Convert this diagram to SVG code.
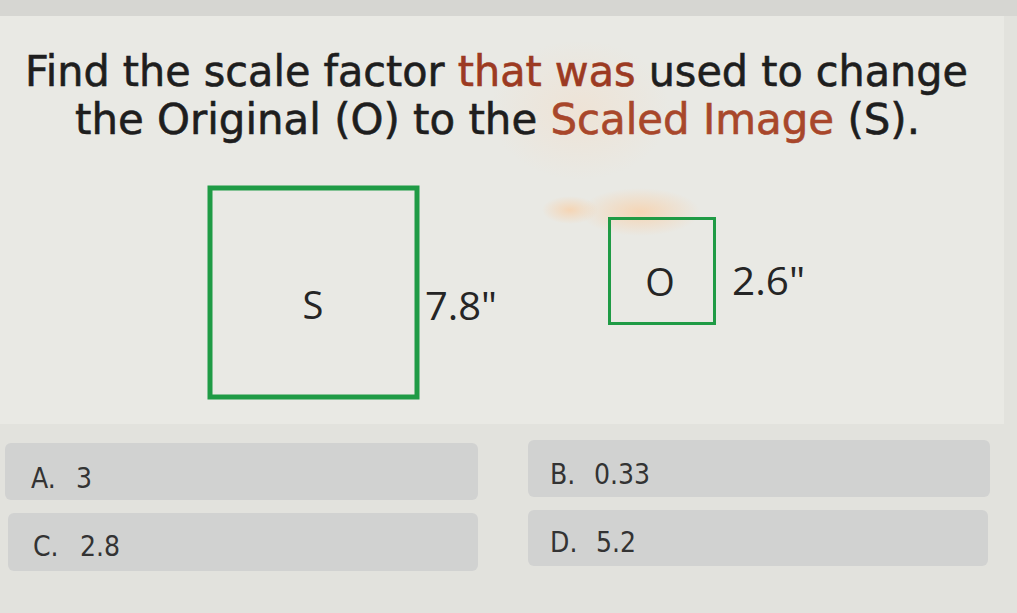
<svg xmlns="http://www.w3.org/2000/svg" width="1017" height="613" viewBox="0 0 1017 613">
<defs>
<style>
.title{font-family:"DejaVu Sans","Liberation Sans",sans-serif;font-size:42px;fill:#1e1e1e;stroke:#1e1e1e;stroke-width:0.6px;}
.red{fill:#9c3a22;stroke:#9c3a22;}
.red2{fill:#a8472b;stroke:#a8472b;}
.lbl{font-family:"Open Sans","DejaVu Sans",sans-serif;font-size:38px;fill:#252525;}
.sq{fill:none;stroke:#1f9b45;}
.ans{fill:#d1d2d1;}
.atxt{font-family:"DejaVu Sans Condensed","DejaVu Sans",sans-serif;font-stretch:condensed;font-size:28px;fill:#333;}
</style>
<radialGradient id="glare" cx="0.5" cy="0.5" r="0.5">
<stop offset="0" stop-color="#f6d3b0" stop-opacity="0.9"/>
<stop offset="1" stop-color="#f6d3b0" stop-opacity="0"/>
</radialGradient>
<radialGradient id="glare2" cx="0.5" cy="0.5" r="0.5">
<stop offset="0" stop-color="#f3ddc8" stop-opacity="0.5"/>
<stop offset="1" stop-color="#f3ddc8" stop-opacity="0"/>
</radialGradient>
</defs>
<rect x="0" y="0" width="1017" height="613" fill="#e2e2dd"/>
<rect x="0" y="0" width="1017" height="16" fill="#d6d6d2"/>
<rect x="0" y="16" width="1004" height="408" fill="#e9e9e4"/>
<ellipse cx="580" cy="110" rx="90" ry="70" fill="url(#glare2)"/>
<ellipse cx="640" cy="212" rx="60" ry="24" fill="url(#glare)"/>
<ellipse cx="570" cy="210" rx="28" ry="14" fill="url(#glare)"/>
<g id="title">
<text class="title" x="25" y="86" textLength="943" lengthAdjust="spacingAndGlyphs">Find the scale factor <tspan class="red">that was</tspan> used to change</text>
<text class="title" x="75" y="134" textLength="845" lengthAdjust="spacingAndGlyphs">the Original (O) to the <tspan class="red2">Scaled Image</tspan> (S).</text>
</g>
<g id="node-S">
<rect class="sq" x="210" y="188" width="207" height="209" stroke-width="5"/>
<text class="lbl" x="313" y="319" text-anchor="middle">S</text>
</g>
<text class="lbl" id="len-S" x="425" y="320" textLength="72" lengthAdjust="spacingAndGlyphs">7.8"</text>
<g id="node-O">
<rect class="sq" x="609.5" y="218.5" width="105" height="105" stroke-width="3"/>
<text class="lbl" x="660" y="296" text-anchor="middle">O</text>
</g>
<text class="lbl" id="len-O" x="732" y="295" textLength="73" lengthAdjust="spacingAndGlyphs">2.6"</text>
<g id="answer-A">
<rect class="ans" x="5" y="443" width="473" height="57" rx="6"/>
<text class="atxt" y="488"><tspan x="31">A.</tspan><tspan x="76">3</tspan></text>
</g>
<g id="answer-B">
<rect class="ans" x="528" y="440" width="462" height="57" rx="6"/>
<text class="atxt" y="484"><tspan x="550">B.</tspan><tspan x="594">0.33</tspan></text>
</g>
<g id="answer-C">
<rect class="ans" x="8" y="513" width="470" height="58" rx="6"/>
<text class="atxt" y="556"><tspan x="33">C.</tspan><tspan x="80">2.8</tspan></text>
</g>
<g id="answer-D">
<rect class="ans" x="528" y="510" width="460" height="56" rx="6"/>
<text class="atxt" y="552"><tspan x="550">D.</tspan><tspan x="596">5.2</tspan></text>
</g>
</svg>
